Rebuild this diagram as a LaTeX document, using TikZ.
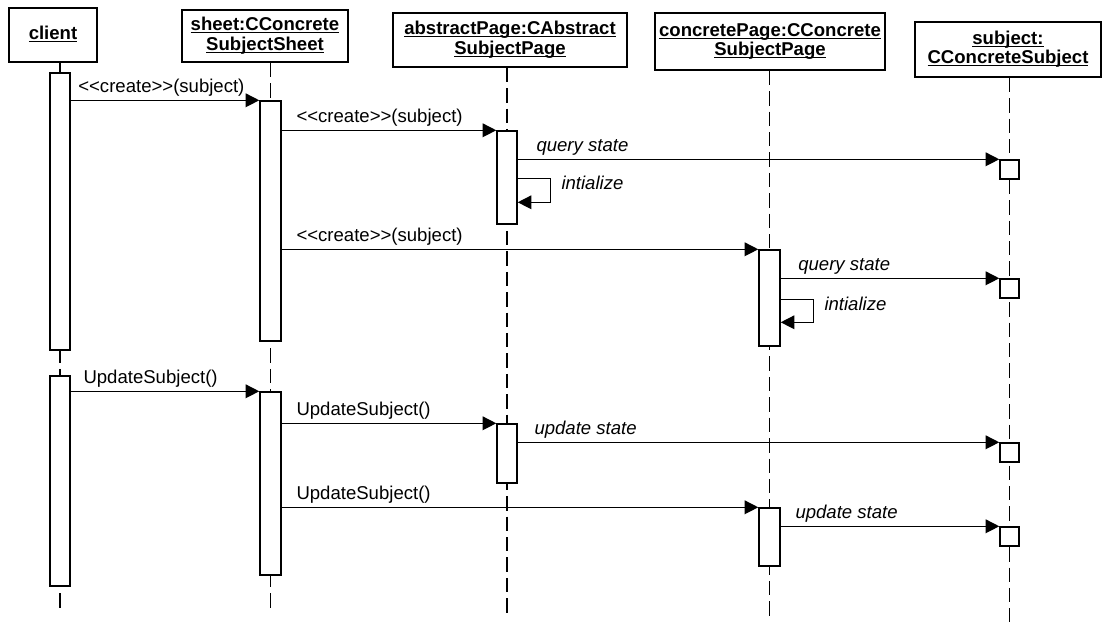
\documentclass[tikz,border=0pt]{standalone}
\usepackage{fontspec}
\setmainfont{Liberation Sans}
\usetikzlibrary{arrows.meta, positioning, calc, fit}
\newcommand{\objname}[1]{\underline{\smash{#1}}\vphantom{Ag}}

\begin{document}
\begin{tikzpicture}[
    x=0.025cm, y=-0.025cm,
    font=\fontsize{13.2}{13.8}\selectfont,
    obj/.style={draw, line width=1pt, align=center, inner sep=0pt,
                font=\fontsize{13.2}{13.8}\selectfont\bfseries},
    act/.style={draw, fill=white, line width=1pt, inner sep=0pt},
    life/.style={line width=1.1pt, dash pattern=on 0.36cm off 0.15cm},
    arr/.style={-{Triangle[length=0.34cm, width=0.34cm]}, line width=1pt},
    lbl/.style={anchor=south west, inner sep=1.5pt, xshift=0.3cm, yshift=1pt},
    ilbl/.style={lbl, font=\fontsize{13.2}{13.8}\selectfont\itshape}
  ]
    \useasboundingbox (0,0) rectangle (1112,622);

    %% Objects
    \node[obj, minimum width=2.2cm, minimum height=1.35cm] (client) at (53,35) {\objname{client}};
    \node[obj, minimum width=4.15cm, minimum height=1.3cm] (sheet) at (265,36)
      {\objname{sheet:CConcrete}\\\objname{SubjectSheet}};
    \node[obj, minimum width=5.85cm, minimum height=1.35cm] (abspage) at (510,40)
      {\objname{abstractPage:CAbstract}\\\objname{SubjectPage}};
    \node[obj, minimum width=5.75cm, minimum height=1.43cm] (conpage) at (770,41.5)
      {\objname{concretePage:CConcrete}\\\objname{SubjectPage}};
    \node[obj, minimum width=4.65cm, minimum height=1.38cm] (subject) at (1008,49.5)
      {\objname{subject:}\\\objname{CConcreteSubject}};

    %% Lifelines
    \coordinate (clientend) at (60,608);
    \coordinate (sheetend) at (270.5,612);
    \coordinate (absend) at (507,617);
    \coordinate (conend) at (769.5,619);
    \coordinate (subend) at (1009.5,622);
    \draw[life] (client.south -| clientend) -- (clientend);
    \draw[life] (sheet.south -| sheetend) -- (sheetend);
    \draw[life] (abspage.south -| absend) -- (absend);
    \draw[life] (conpage.south -| conend) -- (conend);
    \draw[life] (subject.south -| subend) -- (subend);

    %% Activations
    \node[act, fit={(50,73) (70,350)}] (ca1) {};
    \node[act, fit={(50,376) (70,586)}] (ca2) {};
    \node[act, fit={(260,101) (281,341)}] (sa1) {};
    \node[act, fit={(260,392) (281,575)}] (sa2) {};
    \node[act, fit={(497,131) (517,224)}] (aa1) {};
    \node[act, fit={(497,424) (517,483)}] (aa2) {};
    \node[act, fit={(759,250) (780,346)}] (ka1) {};
    \node[act, fit={(759,508) (780,566)}] (ka2) {};
    \node[act, fit={(1000,160) (1019,179)}] (sb1) {};
    \node[act, fit={(1000,279) (1019,298)}] (sb2) {};
    \node[act, fit={(1000,443) (1019,462)}] (sb3) {};
    \node[act, fit={(1000,527) (1019,546)}] (sb4) {};

    %% Creation
    \draw[arr] (ca1.east |- sa1.north) node[lbl, xshift=-0.18cm] {{<}{<}create{>}{>}(subject)} -- (sa1.north west);
    \draw[arr] (sa1.east |- aa1.north) node[lbl] {{<}{<}create{>}{>}(subject)} -- (aa1.north west);
    \draw[arr] (aa1.east |- sb1.north) node[ilbl, xshift=0.1cm] {query state} -- (sb1.north west);
    \draw[arr] ($(aa1.north east)+(0,48)$) -- ++(33,0)
      node[ilbl, anchor=west, xshift=-0.1cm, yshift=-0.16cm] {intialize} |- ($(aa1.north east)+(0,72)$);
    \draw[arr] (sa1.east |- ka1.north) node[lbl] {{<}{<}create{>}{>}(subject)} -- (ka1.north west);
    \draw[arr] (ka1.east |- sb2.north) node[ilbl, xshift=0.07cm] {query state} -- (sb2.north west);
    \draw[arr] ($(ka1.north east)+(0,50)$) -- ++(33,0)
      node[ilbl, anchor=west, xshift=-0.1cm, yshift=-0.16cm] {intialize} |- ($(ka1.north east)+(0,73)$);

    %% Update
    \draw[arr] (ca2.east |- sa2.north) node[lbl, xshift=-0.05cm] {UpdateSubject()} -- (sa2.north west);
    \draw[arr] (sa2.east |- aa2.north) node[lbl] {UpdateSubject()} -- (aa2.north west);
    \draw[arr] (aa2.east |- sb3.north) node[ilbl, xshift=0.05cm] {update state} -- (sb3.north west);
    \draw[arr] (sa2.east |- ka2.north) node[lbl] {UpdateSubject()} -- (ka2.north west);
    \draw[arr] (ka2.east |- sb4.north) node[ilbl] {update state} -- (sb4.north west);
  \end{tikzpicture}
\end{document}
